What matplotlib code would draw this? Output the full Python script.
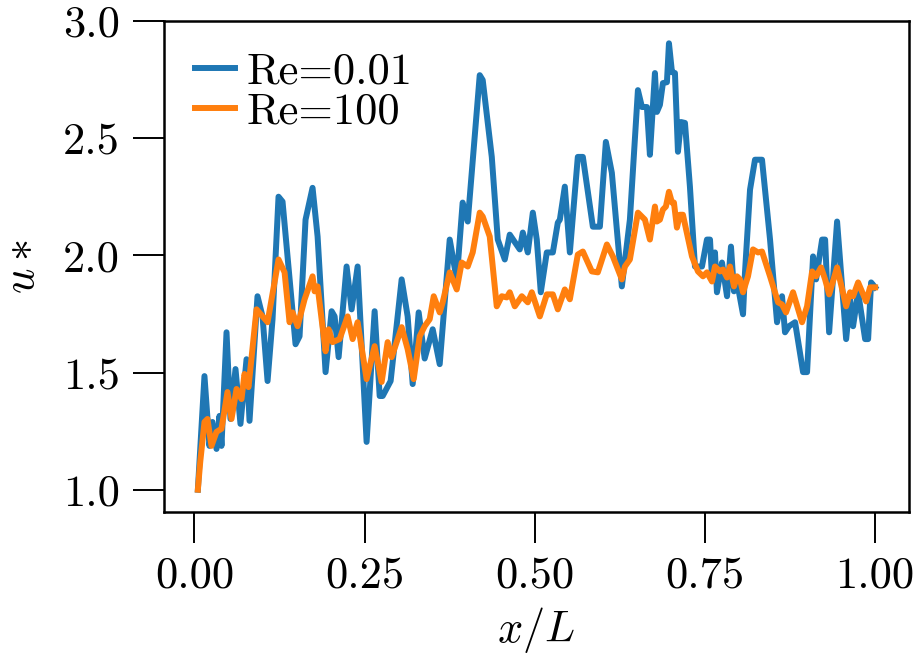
import matplotlib
matplotlib.use("Agg")
import matplotlib.pyplot as plt

plt.rcParams['font.family'] = ['cmr10', 'DejaVu Serif']
plt.rcParams['mathtext.fontset'] = 'cm'
plt.rcParams['axes.unicode_minus'] = False
plt.rcParams['axes.formatter.use_mathtext'] = True

x_re001 = [0.005, 0.0147, 0.022, 0.0265, 0.0324, 0.0368, 0.0397, 0.0471, 0.0529, 0.0603,
           0.0676, 0.0765, 0.0809, 0.0926, 0.100, 0.1074, 0.1147, 0.1235, 0.1294, 0.1368,
           0.1485, 0.1544, 0.1632, 0.1735, 0.1809, 0.1926, 0.2015, 0.2059, 0.2118, 0.2235,
           0.2309, 0.2397, 0.2529, 0.2647, 0.2721, 0.2765, 0.2882, 0.3044, 0.3132, 0.3206,
           0.3294, 0.3382, 0.350, 0.3603, 0.375, 0.3853, 0.394, 0.4015, 0.4191, 0.4235,
           0.4368, 0.4456, 0.4559, 0.4632, 0.4779, 0.4824, 0.4897, 0.4971, 0.5029, 0.5088,
           0.5176, 0.5265, 0.5338, 0.5368, 0.5441, 0.5515, 0.5632, 0.5706, 0.5853, 0.5956,
           0.6044, 0.6132, 0.6279, 0.6397, 0.6515, 0.6574, 0.6647, 0.6691, 0.6765, 0.6794,
           0.6838, 0.6882, 0.6941, 0.6971, 0.7015, 0.7059, 0.7103, 0.7147, 0.7206, 0.7279,
           0.7353, 0.7456, 0.7529, 0.7574, 0.7603, 0.7647, 0.7676, 0.775, 0.7824, 0.7882,
           0.7926, 0.7971, 0.8059, 0.8088, 0.8162, 0.8235, 0.8338, 0.8456, 0.8559, 0.8632,
           0.8676, 0.8735, 0.8824, 0.8941, 0.900, 0.9088, 0.9132, 0.9221, 0.9265, 0.9324,
           0.9441, 0.9574, 0.9632, 0.9676, 0.975, 0.9853, 0.9897, 0.9941, 1.000]
u_re001 = [1.000, 1.485, 1.187, 1.289, 1.174, 1.315, 1.187, 1.672, 1.302, 1.515,
           1.281, 1.557, 1.294, 1.826, 1.740, 1.464, 1.728, 2.251, 2.230, 1.996,
           1.621, 1.655, 2.153, 2.289, 2.081, 1.502, 1.762, 1.740, 1.566, 1.953,
           1.770, 1.953, 1.204, 1.762, 1.400, 1.400, 1.464, 1.898, 1.740, 1.451,
           1.757, 1.560, 1.685, 1.536, 2.068, 1.898, 2.226, 2.145, 2.770, 2.749,
           2.421, 2.068, 1.983, 2.089, 2.026, 2.098, 2.013, 2.183, 2.068, 1.843,
           2.013, 2.013, 2.140, 2.153, 2.294, 2.013, 2.421, 2.421, 2.123, 2.123,
           2.485, 2.353, 1.868, 2.153, 2.706, 2.634, 2.634, 2.430, 2.779, 2.613,
           2.643, 2.736, 2.740, 2.906, 2.783, 2.779, 2.443, 2.570, 2.566, 2.294,
           1.953, 1.953, 2.068, 2.068, 1.906, 2.013, 1.843, 1.970, 1.826, 2.038,
           1.847, 1.889, 1.749, 1.928, 2.281, 2.409, 2.409, 2.068, 1.715, 1.826,
           1.672, 1.698, 1.715, 1.502, 1.502, 1.996, 1.898, 2.068, 2.068, 1.672,
           2.145, 1.643, 1.813, 1.698, 1.843, 1.643, 1.643, 1.885, 1.864]

x_re100 = [0.005, 0.0085, 0.0147, 0.0191, 0.025, 0.0324, 0.0397, 0.0485, 0.0544, 0.0618,
           0.0691, 0.0735, 0.0794, 0.0912, 0.1074, 0.1235, 0.1324, 0.1397, 0.1441, 0.1515,
           0.1618, 0.1735, 0.1765, 0.1809, 0.1926, 0.1971, 0.2029, 0.2132, 0.225, 0.2324,
           0.2397, 0.2529, 0.2647, 0.275, 0.2838, 0.2897, 0.3044, 0.3132, 0.3221, 0.3309,
           0.3382, 0.3456, 0.3515, 0.3603, 0.3647, 0.375, 0.3853, 0.3926, 0.4015, 0.4088,
           0.4191, 0.4235, 0.4338, 0.4441, 0.4515, 0.4588, 0.4632, 0.4706, 0.4809, 0.4897,
           0.4956, 0.5074, 0.5176, 0.5265, 0.5338, 0.5441, 0.5515, 0.5632, 0.5706, 0.5838,
           0.5926, 0.6059, 0.6147, 0.6279, 0.6324, 0.6397, 0.6515, 0.6618, 0.6691, 0.6765,
           0.6794, 0.6838, 0.6882, 0.6926, 0.6971, 0.7015, 0.7044, 0.7088, 0.7132, 0.7176,
           0.7309, 0.7397, 0.7471, 0.7529, 0.7603, 0.7647, 0.7721, 0.7765, 0.7824, 0.7868,
           0.7926, 0.7971, 0.8015, 0.8059, 0.8132, 0.8206, 0.8279, 0.8338, 0.8456, 0.8574,
           0.8632, 0.8691, 0.8794, 0.8926, 0.900, 0.9074, 0.9132, 0.9206, 0.9265, 0.9324,
           0.9441, 0.9574, 0.9632, 0.9676, 0.975, 0.9868, 0.9926, 1.000]
u_re100 = [1.000, 1.119, 1.289, 1.302, 1.187, 1.247, 1.260, 1.417, 1.302, 1.430,
           1.387, 1.494, 1.438, 1.770, 1.715, 1.983, 1.928, 1.715, 1.757, 1.698,
           1.813, 1.911, 1.847, 1.868, 1.591, 1.685, 1.630, 1.643, 1.740, 1.643,
           1.715, 1.472, 1.613, 1.460, 1.630, 1.566, 1.694, 1.600, 1.472, 1.655,
           1.698, 1.728, 1.826, 1.757, 1.800, 1.928, 1.855, 1.970, 1.953, 2.013,
           2.183, 2.166, 2.081, 1.783, 1.826, 1.821, 1.843, 1.783, 1.826, 1.800,
           1.843, 1.740, 1.834, 1.834, 1.770, 1.855, 1.813, 2.004, 2.017, 1.932,
           1.928, 2.047, 1.996, 1.898, 1.953, 1.983, 2.183, 2.153, 2.068, 2.209,
           2.145, 2.153, 2.196, 2.209, 2.272, 2.226, 2.226, 2.119, 2.174, 2.174,
           1.996, 1.932, 1.911, 1.928, 1.889, 1.953, 1.932, 1.940, 1.906, 1.953,
           1.868, 1.911, 1.898, 1.843, 1.911, 2.026, 2.013, 2.017, 1.911, 1.800,
           1.791, 1.757, 1.843, 1.715, 1.783, 1.932, 1.911, 1.949, 1.898, 1.834,
           1.949, 1.783, 1.843, 1.826, 1.885, 1.804, 1.864, 1.864]

labels = ["Re=0.01", "Re=100"]
colors = ["#1f77b4", "#ff7f0e"]

fig = plt.figure(figsize=(9.19, 6.60), dpi=100)
ax = fig.add_axes([164 / 919, 1 - 512 / 660, (909 - 164) / 919, (512 - 21) / 660])

ax.plot(x_re001, u_re001, color=colors[0], lw=4.3, label=labels[0])
ax.plot(x_re100, u_re100, color=colors[1], lw=4.3, label=labels[1])

ax.set_xticks([0.0, 0.25, 0.5, 0.75, 1.0])
ax.set_xticklabels(["0.00", "0.25", "0.50", "0.75", "1.00"])
ax.set_yticks([1.0, 1.5, 2.0, 2.5, 3.0])
ax.set_yticklabels(["1.0", "1.5", "2.0", "2.5", "3.0"])
ax.tick_params(axis='both', which='major', length=22, width=1.4, labelsize=32, pad=10)
for s in ax.spines.values():
    s.set_linewidth(1.8)

ax.set_xlabel(r"$x/L$", fontsize=32, labelpad=6)
ax.set_ylabel(r"$u*$", fontsize=32, labelpad=14)

leg = ax.legend(loc="upper left", frameon=False, fontsize=32, handlelength=0.9,
                handletextpad=0.25, labelspacing=0.0, borderaxespad=0.3, borderpad=0.4)

fig.savefig("out.png", dpi=100)
